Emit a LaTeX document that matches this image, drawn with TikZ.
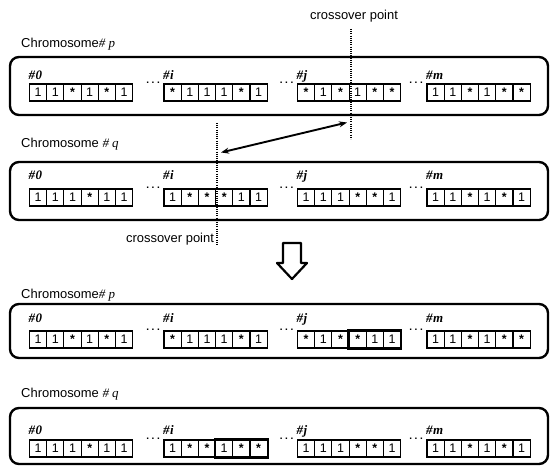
\documentclass[tikz,border=0pt]{standalone}
\usepackage{fontspec}
\setmainfont{Liberation Sans}
\newfontfamily\serifit{Liberation Serif}
\usetikzlibrary{arrows.meta,fit}
\newcommand\cellsym[1]{\if s#1\raisebox{-3bp}{\bfseries *}\else #1\fi}
\def\cw{17.2}
\def\ch{17}
% #1 prefix, #2 start x, #3 cell top y, #4 label baseline y, #5 label, #6 list
\newcommand\cellgroup[6]{%
  \node[grplabel] (#1-lab) at (#2-1,#4) {\#\kern0.5bp#5};
  \foreach \cv [count=\k] in {#6} {
    \node[cellbox] (#1-\k) at ({#2+(\k-0.5)*\cw},{#3+\ch/2}) {\cellsym{\cv}};
  }
}
% #1 name, #2 next group start x, #3 cell top y
\newcommand\gapdots[3]{%
  \node[dotsnode] (#1) at (#2-4,#3-0.5) {.\kern2.6bp.\kern2.6bp.};
}
\begin{document}
\begin{tikzpicture}[x=1bp,y=-1bp,
  panelbox/.style={draw, line width=2.4bp, rounded corners=9bp, inner sep=0pt, minimum width=538bp},
  cellbox/.style={draw, line width=1.1bp, inner sep=0pt, minimum width=\cw bp, minimum height=\ch bp, font=\fontsize{12.5}{13}\selectfont},
  grplabel/.style={anchor=base west, inner sep=0pt, font=\serifit\bfseries\itshape\fontsize{13}{14}\selectfont},
  titletext/.style={anchor=base west, inner sep=0pt, font=\fontsize{13}{14}\selectfont},
  xlabel/.style={inner sep=0pt, font=\fontsize{13}{14}\selectfont},
  dotsnode/.style={anchor=base east, inner sep=0pt, font=\bfseries\fontsize{10}{10}\selectfont},
  xline/.style={line width=2.8bp, dash pattern=on 1.1bp off 1.1bp},
  boldbox/.style={draw, line width=2.4bp, inner sep=0pt},
  swap/.style={line width=1.9bp, {Stealth[length=8bp,width=6bp]}-{Stealth[length=8bp,width=6bp]}},
  hollow/.style={draw, line width=2.2bp, fill=white, line join=round}
]
\useasboundingbox (0,0) rectangle (553,467);

% ---------- Panel 1: chromosome p before ----------
\node[titletext] (title1) at (21,48) {Chromosome{\serifit\itshape\# p}};
\node[panelbox, minimum height=58bp] (box1) at (279,86) {};
\cellgroup{p1z}{29.5}{84}{80}{0}{1,1,s,1,s,1}
\cellgroup{p1i}{164}{84}{80}{i}{s,1,1,1,s,1}
\cellgroup{p1j}{297.5}{84}{80}{j}{s,1,s,1,s,s}
\cellgroup{p1m}{427}{84}{80}{m}{1,1,s,1,s,s}
\gapdots{p1d1}{164}{84}
\gapdots{p1d2}{297.5}{84}
\gapdots{p1d3}{427}{84}

% ---------- Panel 2: chromosome q before ----------
\node[titletext] (title2) at (21,148) {Chromosome {\serifit\itshape\# q}};
\node[panelbox, minimum height=58bp] (box2) at (279,191) {};
\cellgroup{p2z}{29.5}{189}{180}{0}{1,1,1,s,1,1}
\cellgroup{p2i}{164}{189}{180}{i}{1,s,s,s,1,1}
\cellgroup{p2j}{297.5}{189}{180}{j}{1,1,1,s,s,1}
\cellgroup{p2m}{427}{189}{180}{m}{1,1,s,1,s,1}
\gapdots{p2d1}{164}{189}
\gapdots{p2d2}{297.5}{189}
\gapdots{p2d3}{427}{189}

% ---------- crossover markers ----------
\node[xlabel] (xl1) at (354,16) {crossover point};
\coordinate (x1top) at (351,29);
\coordinate (x1bot) at (351,139);
\draw[xline] (x1top) -- (x1bot);
\node[xlabel] (xl2) at (170,239) {crossover point};
\coordinate (x2top) at (217,123);
\coordinate (x2bot) at (217,246);
\draw[xline] (x2top) -- (x2bot);
\coordinate (a1) at (221,152.5);
\coordinate (a2) at (347,122.5);
\draw[swap] (a1) -- (a2);

% ---------- hollow down arrow ----------
\draw[hollow] (283,243) -- (301,243) -- (301,263) -- (307,263) -- (292,279) -- (277,263) -- (283,263) -- cycle;

% ---------- Panel 3: chromosome p after ----------
\node[titletext] (title3) at (21,298) {Chromosome{\serifit\itshape\# p}};
\node[panelbox, minimum height=54bp] (box3) at (279,331) {};
\cellgroup{p3z}{29.5}{331}{322}{0}{1,1,s,1,s,1}
\cellgroup{p3i}{164}{331}{322}{i}{s,1,1,1,s,1}
\cellgroup{p3j}{297.5}{331}{322}{j}{s,1,s,s,1,1}
\cellgroup{p3m}{427}{331}{322}{m}{1,1,s,1,s,s}
\gapdots{p3d1}{164}{331}
\gapdots{p3d2}{297.5}{331}
\gapdots{p3d3}{427}{331}
\node[boldbox, fit=(p3j-4)(p3j-6)] (hl3) {};

% ---------- Panel 4: chromosome q after ----------
\node[titletext] (title4) at (21,397) {Chromosome {\serifit\itshape\# q}};
\node[panelbox, minimum height=56bp] (box4) at (279,436) {};
\cellgroup{p4z}{29.5}{440}{434}{0}{1,1,1,s,1,1}
\cellgroup{p4i}{164}{440}{434}{i}{1,s,s,1,s,s}
\cellgroup{p4j}{297.5}{440}{434}{j}{1,1,1,s,s,1}
\cellgroup{p4m}{427}{440}{434}{m}{1,1,s,1,s,1}
\gapdots{p4d1}{164}{440}
\gapdots{p4d2}{297.5}{440}
\gapdots{p4d3}{427}{440}
\node[boldbox, fit=(p4i-4)(p4i-6)] (hl4) {};
\end{tikzpicture}
\end{document}
